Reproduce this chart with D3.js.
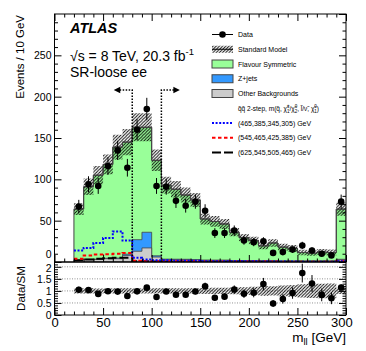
<!DOCTYPE html>
<html>
<head>
<meta charset="utf-8">
<script src="https://cdn.jsdelivr.net/npm/d3@7"></script>
<style>
  body { margin: 0; background: #fff; }
  svg text { font-family: 'Liberation Sans', Arial, Helvetica, sans-serif; }
</style>
</head>
<body>
<svg id="chart" width="366" height="351"></svg>
<script>
// m_ll bins (GeV), lower edges, 10 GeV wide; last bin includes overflow
const binLow = [20, 30, 40, 50, 60, 70, 80, 90, 100, 110, 120, 130, 140, 150,
    160, 170, 180, 190, 200, 210, 220, 230, 240, 250, 260, 270, 280, 290];
const binWidth = 10;

const dataCounts = [67, 94, 92, 116, 135, 114, 160, 185, 92, 91, 74, 68, 73, 62,
    35, 35, 38, 26, 24, 25, 11, 12, 15, 20, 14, 10, 8, 73];
const smTotal = [64, 91, 105, 118, 139, 145, 163, 163, 123, 93, 88, 81, 75, 52,
    49, 46, 36, 29.5, 26, 19.5, 23, 18, 16.5, 11.5, 10.7, 12, 11.5, 64];
const smError = [7, 10, 11, 12, 15, 16, 17, 17, 13, 10, 10, 9, 8.5, 6.5,
    6.5, 6, 5, 4.5, 4.5, 4, 4.5, 4, 4, 3.2, 3.2, 3.6, 3.5, 8];
const otherBkg = [2, 3, 3, 4, 4, 8, 13, 17, 6, 3, 3, 3, 2.5, 2,
    2, 2, 1.5, 1.5, 1.5, 1.2, 1.2, 1, 1, 1, 1, 1, 1, 3];
const zJets = [0.3, 0.3, 0.4, 0.5, 0.8, 1.5, 14, 19, 1.5, 0.5, 0.4, 0.3, 0.3, 0.3,
    0.2, 0.2, 0.2, 0.2, 0.1, 0.1, 0.1, 0.1, 0.1, 0.1, 0.1, 0.1, 0.1, 0.3];

const sig465 = [14, 17, 23, 29, 37, 26, 5, 3, 2, 2, 1.5, 1.5, 1.5, 1,
    1, 1, 1, 0.8, 0.8, 0.6, 0.6, 0.5, 0.5, 0.4, 0.4, 0.3, 0.3, 1];
const sig545 = [4, 8, 9, 9.5, 10, 11, 1.5, 1, 1, 1, 0.8, 0.8, 0.8, 0.7,
    0.7, 0.6, 0.6, 0.6, 0.5, 0.5, 0.5, 0.4, 0.4, 0.4, 0.3, 0.3, 0.3, 0.8];
const sig625 = [2, 3, 4, 4.5, 5, 5, 1, 0.8, 0.6, 0.6, 0.5, 0.5, 0.5, 0.4,
    0.4, 0.4, 0.3, 0.3, 0.3, 0.3, 0.2, 0.2, 0.2, 0.2, 0.2, 0.2, 0.2, 0.5];

const cutEdges = [80, 110];
const arrowLevel = 208;
const arrowLength = 19;

const xMajor = [0, 50, 100, 150, 200, 250, 300];
const xMinor = [10, 20, 30, 40, 60, 70, 80, 90, 110, 120, 130, 140, 160, 170, 180, 190,
    210, 220, 230, 240, 260, 270, 280, 290];
const yMajor = [0, 50, 100, 150, 200, 250, 300];
const yMinor = [10, 20, 30, 40, 60, 70, 80, 90, 110, 120, 130, 140, 160, 170, 180, 190,
    210, 220, 230, 240, 260, 270, 280, 290];
const rMajor = [0, 0.5, 1, 1.5, 2];
const rMinor = [0.1, 0.2, 0.3, 0.4, 0.6, 0.7, 0.8, 0.9, 1.1, 1.2, 1.3, 1.4, 1.6, 1.7, 1.8, 1.9, 2.1];
const rGrid = [0.5, 1, 1.5, 2];

const colors = {
    flavour: '#99ff99',
    zjets: '#3399ff',
    other: '#cccccc',
    outline: '#444444',
    sig465: '#0000ff',
    sig545: '#ff0000',
    sig625: '#000000'
};

const legendItems = [
    { type: 'data', label: 'Data' },
    { type: 'hatch', label: 'Standard Model' },
    { type: 'box', fill: colors.flavour, label: 'Flavour Symmetric' },
    { type: 'box', fill: colors.zjets, label: 'Z+jets' },
    { type: 'box', fill: colors.other, label: 'Other Backgrounds' },
    { type: 'header' },
    { type: 'line', color: colors.sig465, dash: '2,1.6', label: '(465,385,345,305) GeV' },
    { type: 'line', color: colors.sig545, dash: '3.5,2.5', label: '(545,465,425,385) GeV' },
    { type: 'line', color: colors.sig625, dash: '9,3', label: '(625,545,505,465) GeV' }
];

const svg = d3.select('#chart');

const frame = { left: 54.5, right: 346, top: 14, mid: 262, bottom: 315 };

const x = d3.scaleLinear().domain([0, 300]).range([frame.left, frame.right]);
const y = d3.scaleLinear().domain([0, 300]).range([frame.mid, frame.top]);
const yr = d3.scaleLinear().domain([0, 2.2]).range([frame.bottom, frame.mid]);

const defs = svg.append('defs');

defs.append('pattern')
    .attr('id', 'hatch')
    .attr('patternUnits', 'userSpaceOnUse')
    .attr('width', 3.2)
    .attr('height', 3.2)
    .append('path')
    .attr('d', 'M-0.8,0.8 l1.6,-1.6 M0,3.2 l3.2,-3.2 M2.4,4 l1.6,-1.6')
    .attr('stroke', '#000')
    .attr('stroke-width', 0.95);

defs.append('clipPath').attr('id', 'clip-top')
    .append('rect')
    .attr('x', frame.left).attr('y', frame.top)
    .attr('width', frame.right - frame.left).attr('height', frame.mid - frame.top);

defs.append('clipPath').attr('id', 'clip-bottom')
    .append('rect')
    .attr('x', frame.left).attr('y', frame.mid)
    .attr('width', frame.right - frame.left).attr('height', frame.bottom - frame.mid);

function stepRows(lower, upper) {
    return binLow.flatMap((lo, i) => [
        { m: lo, l: lower(i), u: upper(i) },
        { m: lo + binWidth, l: lower(i), u: upper(i) }
    ]);
}

function stepArea(scale, lower, upper) {
    return d3.area()
        .x(d => x(d.m))
        .y0(d => scale(d.l))
        .y1(d => scale(d.u))(stepRows(lower, upper));
}

function stepLine(values) {
    return d3.line()
        .x(d => x(d.m))
        .y(d => y(d.u))(stepRows(() => 0, i => values[i]));
}

// ---- top panel ----
const mainPanel = svg.append('g').attr('clip-path', 'url(#clip-top)');

mainPanel.append('path')
    .attr('d', stepArea(y, () => 0, i => smTotal[i]))
    .attr('fill', colors.flavour)
    .attr('stroke', colors.outline)
    .attr('stroke-width', 1);

mainPanel.append('path')
    .attr('d', stepArea(y, () => 0, i => otherBkg[i] + zJets[i]))
    .attr('fill', colors.zjets)
    .attr('stroke', colors.outline)
    .attr('stroke-width', 0.8);

mainPanel.append('path')
    .attr('d', stepArea(y, () => 0, i => otherBkg[i]))
    .attr('fill', colors.other)
    .attr('stroke', colors.outline)
    .attr('stroke-width', 0.8);

mainPanel.append('path')
    .attr('d', stepArea(y, i => smTotal[i] - smError[i], i => smTotal[i] + smError[i]))
    .attr('fill', 'url(#hatch)');

mainPanel.append('path')
    .attr('d', stepLine(smTotal))
    .attr('fill', 'none')
    .attr('stroke', colors.outline)
    .attr('stroke-width', 1);

[[sig625, colors.sig625, '9,3'], [sig545, colors.sig545, '3.5,2.5'], [sig465, colors.sig465, '2,1.6']]
    .forEach(([vals, col, dash]) => {
        mainPanel.append('path')
            .attr('d', stepLine(vals))
            .attr('fill', 'none')
            .attr('stroke', col)
            .attr('stroke-width', 2)
            .attr('stroke-dasharray', dash);
    });

// cut lines with arrows
cutEdges.forEach((edge, k) => {
    const dir = k === 0 ? -1 : 1;
    const tip = edge + dir * arrowLength;
    mainPanel.append('path')
        .attr('d', `M${x(edge)},${y(0)} V${y(arrowLevel)} H${x(tip) - dir * 5}`)
        .attr('fill', 'none')
        .attr('stroke', '#000')
        .attr('stroke-width', 1.5)
        .attr('stroke-dasharray', '1.5,1.5');
    mainPanel.append('path')
        .attr('d', `M${x(tip)},${y(arrowLevel)} l${-dir * 6.5},-3.3 v6.6 Z`)
        .attr('fill', '#000');
});

// data points
const dataG = svg.append('g');
binLow.forEach((lo, i) => {
    const cx = x(lo + binWidth / 2), n = dataCounts[i], e = Math.sqrt(n);
    dataG.append('line')
        .attr('x1', cx).attr('x2', cx)
        .attr('y1', y(n - e)).attr('y2', y(n + e))
        .attr('stroke', '#000').attr('stroke-width', 1);
    dataG.append('circle')
        .attr('cx', cx).attr('cy', y(n)).attr('r', 3.3)
        .attr('fill', '#000');
});

// ---- ratio panel ----
const ratioPanel = svg.append('g').attr('clip-path', 'url(#clip-bottom)');

ratioPanel.selectAll('line.grid')
    .data(rGrid)
    .join('line')
    .attr('class', 'grid')
    .attr('x1', frame.left).attr('x2', frame.right)
    .attr('y1', d => yr(d)).attr('y2', d => yr(d))
    .attr('stroke', '#777')
    .attr('stroke-width', 0.8)
    .attr('stroke-dasharray', '1,1.5');

ratioPanel.append('path')
    .attr('d', stepArea(yr, i => 1 - smError[i] / smTotal[i], i => 1 + smError[i] / smTotal[i]))
    .attr('fill', 'url(#hatch)');

binLow.forEach((lo, i) => {
    const cx = x(lo + binWidth / 2), r = dataCounts[i] / smTotal[i],
        e = Math.sqrt(dataCounts[i]) / smTotal[i];
    ratioPanel.append('line')
        .attr('x1', cx).attr('x2', cx)
        .attr('y1', yr(r - e)).attr('y2', yr(r + e))
        .attr('stroke', '#000').attr('stroke-width', 1);
    ratioPanel.append('circle')
        .attr('cx', cx).attr('cy', yr(r)).attr('r', 3.3)
        .attr('fill', '#000');
});

// ---- axes ----
function ticks(axis, values, len, fmt) {
    return axis.tickValues(values).tickSize(-len).tickPadding(3).tickFormat(fmt || '');
}

function styleAxis(g, size) {
    g.select('.domain').remove();
    g.attr('font-family', null).attr('font-size', size);
    g.selectAll('.tick line').attr('stroke', '#000');
    g.selectAll('.tick text').attr('fill', '#000');
    return g;
}

const axes = svg.append('g');

// top panel y
styleAxis(axes.append('g').attr('transform', `translate(${frame.left},0)`)
    .call(ticks(d3.axisLeft(y), yMajor.filter(v => v < 300), 7, d3.format('d'))), 10.5)
    .selectAll('.tick text')
    .attr('dy', d => d === 0 ? '-0.45em' : '0.32em');
styleAxis(axes.append('g').attr('transform', `translate(${frame.left},0)`)
    .call(ticks(d3.axisLeft(y), yMinor, 3.5)), 10);
styleAxis(axes.append('g').attr('transform', `translate(${frame.right},0)`)
    .call(ticks(d3.axisRight(y), yMajor, 7)), 10);
styleAxis(axes.append('g').attr('transform', `translate(${frame.right},0)`)
    .call(ticks(d3.axisRight(y), yMinor, 3.5)), 10);

// top panel x (top and bottom edges)
[[d3.axisTop, frame.top], [d3.axisBottom, frame.mid]].forEach(([fn, pos]) => {
    styleAxis(axes.append('g').attr('transform', `translate(0,${pos})`)
        .call(ticks(fn(x), xMajor, 7)), 10);
    styleAxis(axes.append('g').attr('transform', `translate(0,${pos})`)
        .call(ticks(fn(x), xMinor, 3.5)), 10);
});

// ratio panel y
styleAxis(axes.append('g').attr('transform', `translate(${frame.left},0)`)
    .call(ticks(d3.axisLeft(yr), rMajor, 7, d3.format('~g'))), 10.5)
    .selectAll('.tick text')
    .attr('dy', d => d === 2 ? '0.45em' : '0.32em');
styleAxis(axes.append('g').attr('transform', `translate(${frame.left},0)`)
    .call(ticks(d3.axisLeft(yr), rMinor, 3.5)), 10);
styleAxis(axes.append('g').attr('transform', `translate(${frame.right},0)`)
    .call(ticks(d3.axisRight(yr), rMajor, 7)), 10);
styleAxis(axes.append('g').attr('transform', `translate(${frame.right},0)`)
    .call(ticks(d3.axisRight(yr), rMinor, 3.5)), 10);

// ratio panel x
styleAxis(axes.append('g').attr('transform', `translate(0,${frame.bottom})`)
    .call(ticks(d3.axisBottom(x), xMajor, 7, d3.format('d'))), 13)
    .selectAll('.tick text')
    .attr('dx', d => d === 300 ? '-0.35em' : 0);
styleAxis(axes.append('g').attr('transform', `translate(0,${frame.bottom})`)
    .call(ticks(d3.axisBottom(x), xMinor, 3.5)), 10);

// frames
[[frame.top, frame.mid], [frame.mid, frame.bottom]].forEach(([t, b]) => {
    axes.append('rect')
        .attr('x', frame.left).attr('y', t)
        .attr('width', frame.right - frame.left).attr('height', b - t)
        .attr('fill', 'none').attr('stroke', '#000').attr('stroke-width', 1);
});

// axis titles
svg.append('text')
    .attr('transform', `translate(23.5,15) rotate(-90)`)
    .attr('text-anchor', 'end')
    .attr('font-size', 11.5)
    .text('Events / 10 GeV');

svg.append('text')
    .attr('transform', `translate(24.5,${(frame.mid + frame.bottom) / 2}) rotate(-90)`)
    .attr('text-anchor', 'middle')
    .attr('font-size', 11.5)
    .text('Data/SM');

const xTitle = svg.append('text')
    .attr('x', frame.right).attr('y', 341.5)
    .attr('text-anchor', 'end')
    .attr('font-size', 13.5);
xTitle.append('tspan').text('m');
xTitle.append('tspan').attr('font-size', 9.5).attr('dy', 3).text('ll');
xTitle.append('tspan').attr('dy', -3).text(' [GeV]');

// labels
svg.append('text')
    .attr('x', 70).attr('y', 33.3)
    .attr('font-size', 14.5)
    .attr('font-weight', 'bold')
    .attr('font-style', 'italic')
    .text('ATLAS');

const energy = svg.append('text')
    .attr('x', 70).attr('y', 60.5)
    .attr('font-size', 14);
energy.append('tspan').text('\u221As = 8 TeV, 20.3 fb');
energy.append('tspan').attr('font-size', 9.5).attr('dy', -6).text('-1');

svg.append('text')
    .attr('x', 70).attr('y', 76.5)
    .attr('font-size', 14)
    .text('SR-loose ee');

// legend
const legend = svg.append('g').attr('font-size', 7);
const lx0 = 212, lx1 = 233, ltx = 238, ly0 = 34.5, lstep = 14.75;

legendItems.forEach((item, i) => {
    const cy = ly0 + i * lstep;
    const g = legend.append('g');
    if (item.type === 'data') {
        g.append('line').attr('x1', lx0).attr('x2', lx1).attr('y1', cy).attr('y2', cy)
            .attr('stroke', '#000').attr('stroke-width', 1);
        g.append('circle').attr('cx', (lx0 + lx1) / 2).attr('cy', cy).attr('r', 3.3).attr('fill', '#000');
    } else if (item.type === 'hatch') {
        g.append('rect').attr('x', lx0).attr('y', cy - 3.5).attr('width', lx1 - lx0).attr('height', 7)
            .attr('fill', 'url(#hatch)');
        g.append('line').attr('x1', lx0).attr('x2', lx1).attr('y1', cy).attr('y2', cy)
            .attr('stroke', '#000').attr('stroke-width', 1);
    } else if (item.type === 'box') {
        g.append('rect').attr('x', lx0).attr('y', cy - 4).attr('width', lx1 - lx0).attr('height', 8)
            .attr('fill', item.fill).attr('stroke', colors.outline).attr('stroke-width', 1);
    } else if (item.type === 'line') {
        g.append('line').attr('x1', lx0).attr('x2', lx1).attr('y1', cy).attr('y2', cy)
            .attr('stroke', item.color).attr('stroke-width', 2)
            .attr('stroke-dasharray', item.dash);
    }
    if (item.type === 'header') {
        const t = g.append('text').attr('x', ltx).attr('y', cy + 2.5).attr('font-size', 6.5);
        t.append('tspan').text('q\u0303q\u0303 2-step, m(q\u0303, \u03C7\u0303');
        t.append('tspan').attr('font-size', 4.5).attr('dy', -2.5).text('\u00B1');
        t.append('tspan').attr('font-size', 4.5).attr('dx', -2.5).attr('dy', 4.5).text('1');
        t.append('tspan').attr('dy', -2).text('/\u03C7\u0303');
        t.append('tspan').attr('font-size', 4.5).attr('dy', -2.5).text('0');
        t.append('tspan').attr('font-size', 4.5).attr('dx', -2.5).attr('dy', 4.5).text('2');
        t.append('tspan').attr('dy', -2).text(', l\u0303/\u03BD\u0303, \u03C7\u0303');
        t.append('tspan').attr('font-size', 4.5).attr('dy', -2.5).text('0');
        t.append('tspan').attr('font-size', 4.5).attr('dx', -2.5).attr('dy', 4.5).text('1');
        t.append('tspan').attr('dy', -2).text(')');
    } else {
        g.append('text').attr('x', ltx).attr('y', cy + 2.5).text(item.label);
    }
});
</script>
</body>
</html>
